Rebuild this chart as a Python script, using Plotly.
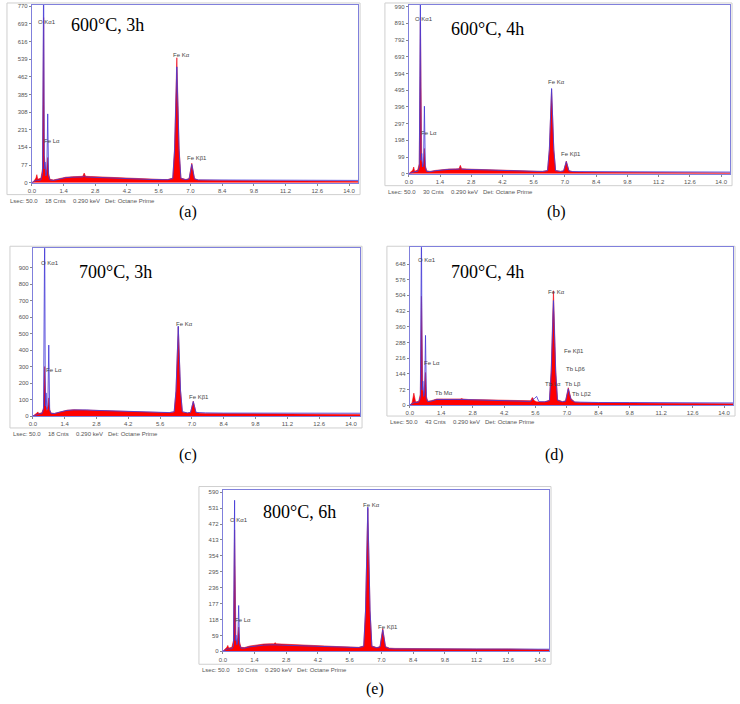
import plotly.graph_objects as go

W, H = 740, 704

# energy grid (keV) shared by all spectra
energy = [0.00, 0.10, 0.18, 0.22, 0.26, 0.40, 0.47, 0.52, 0.55, 0.58,
          0.62, 0.66, 0.70, 0.74, 0.80, 0.95, 1.20, 1.50, 1.80, 2.10,
          2.25, 2.31, 2.37, 2.60, 3.00, 3.50, 4.00, 4.50, 5.00, 5.30,
          5.38, 5.46, 5.55, 5.65, 5.75, 6.00, 6.22, 6.30, 6.40, 6.50,
          6.58, 6.80, 6.94, 7.06, 7.18, 7.35, 7.60, 8.40, 9.80, 11.20,
          12.60, 13.50, 14.00, 14.40]

# (a) 600°C, 3h
red_a = [0, 8, 20, 35, 15, 20, 60, 720, 120, 70,
         40, 60, 110, 40, 15, 12, 18, 24, 26, 27,
         28, 42, 28, 27, 25, 24, 20, 18, 16, 15,
         15, 15, 14, 14, 14, 14, 20, 150, 545, 150,
         20, 14, 18, 85, 18, 12, 11, 10, 9, 9,
         8, 7, 6, 5]
blue_a = [0, 5, 10, 12, 10, 12, 40, 900, 60, 90,
          30, 50, 300, 30, 12, 10, 15, 22, 24, 25,
          25, 30, 25, 24, 22, 21, 18, 16, 15, 14,
          14, 14, 14, 14, 13, 13, 18, 140, 505, 140,
          18, 13, 16, 80, 16, 12, 12, 12, 12, 11,
          11, 11, 10, 10]

# (b) 600°C, 4h
red_b = [0, 10, 22, 40, 15, 22, 60, 900, 150, 80,
         40, 70, 150, 50, 18, 14, 20, 26, 28, 29,
         30, 50, 30, 28, 26, 24, 21, 19, 17, 16,
         16, 15, 15, 15, 14, 14, 20, 140, 500, 140,
         20, 14, 18, 75, 18, 12, 10, 9, 8, 8,
         8, 7, 6, 5]
blue_b = [0, 6, 12, 14, 12, 14, 40, 1100, 80, 120,
          40, 60, 400, 40, 14, 12, 18, 24, 26, 27,
          27, 34, 27, 26, 24, 22, 19, 17, 16, 15,
          15, 15, 15, 15, 14, 14, 18, 145, 505, 145,
          18, 14, 16, 72, 16, 13, 13, 12, 12, 12,
          12, 11, 11, 10]

# (c) 700°C, 3h
red_c = [0, 8, 18, 25, 15, 20, 50, 300, 80, 60,
         30, 50, 110, 40, 18, 16, 25, 35, 38, 38,
         37, 38, 37, 35, 33, 30, 28, 25, 23, 22,
         22, 22, 21, 21, 21, 20, 25, 150, 540, 150,
         25, 18, 22, 90, 22, 17, 16, 15, 15, 15,
         14, 13, 12, 10]
blue_c = [0, 6, 12, 14, 12, 15, 40, 1100, 60, 140,
          40, 60, 430, 35, 16, 15, 24, 34, 37, 38,
          37, 37, 37, 35, 33, 30, 28, 26, 24, 23,
          23, 23, 22, 22, 22, 21, 26, 155, 545, 155,
          26, 19, 22, 88, 22, 19, 19, 18, 18, 18,
          20, 18, 18, 17]

# (d) 700°C, 4h
red_d = [0, 10, 55, 20, 14, 18, 50, 500, 110, 70,
         40, 80, 150, 40, 18, 20, 28, 28, 27, 28,
         28, 30, 28, 26, 25, 23, 21, 20, 18, 17,
         20, 35, 20, 15, 14, 15, 22, 160, 525, 160,
         25, 16, 20, 80, 30, 14, 12, 11, 10, 10,
         9, 8, 7, 6]
blue_d = [0, 6, 14, 14, 12, 14, 35, 800, 70, 110,
          40, 60, 320, 30, 16, 18, 26, 27, 26, 26,
          26, 27, 26, 25, 24, 22, 20, 19, 18, 17,
          17, 25, 30, 40, 16, 15, 20, 150, 480, 150,
          22, 15, 18, 75, 25, 14, 13, 12, 12, 12,
          11, 11, 10, 10]

# (e) 800°C, 6h
red_e = [0, 8, 15, 22, 12, 15, 40, 450, 60, 45,
         30, 50, 90, 35, 15, 14, 20, 24, 27, 28,
         28, 32, 28, 27, 25, 24, 22, 20, 18, 17,
         17, 17, 16, 16, 16, 15, 20, 150, 530, 150,
         20, 14, 18, 85, 18, 12, 11, 10, 10, 9,
         9, 8, 7, 6]
blue_e = [0, 5, 8, 10, 9, 10, 20, 560, 40, 60,
          25, 40, 170, 25, 12, 12, 17, 21, 23, 24,
          24, 26, 24, 23, 22, 21, 19, 17, 16, 15,
          15, 15, 15, 15, 14, 14, 18, 150, 535, 150,
          18, 13, 16, 80, 16, 10, 9, 9, 8, 8,
          8, 8, 8, 8]

x_ticks = [0.0, 1.4, 2.8, 4.2, 5.6, 7.0, 8.4, 9.8, 11.2, 12.6, 14.0]
y_ticks_a = [0, 77, 154, 231, 308, 385, 462, 539, 616, 693, 770]
y_ticks_b = [0, 99, 198, 297, 396, 495, 594, 693, 792, 891, 990]
y_ticks_c = [0, 100, 200, 300, 400, 500, 600, 700, 800, 900]
y_ticks_d = [0, 72, 144, 216, 288, 360, 432, 504, 576, 648]
y_ticks_e = [0, 59, 118, 177, 236, 295, 354, 413, 472, 531, 590]
y_max = [775, 1000, 1017, 725, 600]

titles = ["600°C, 3h", "600°C, 4h", "700°C, 3h", "700°C, 4h", "800°C, 6h"]
tags = ["(a)", "(b)", "(c)", "(d)", "(e)"]
cnts = ["18 Cnts", "30 Cnts", "18 Cnts", "43 Cnts", "10 Cnts"]

labels_a = [("O Kα1", 0.18, 700), ("Fe Lα", 0.44, 180), ("Fe Kα", 6.16, 555), ("Fe Kβ1", 6.78, 107)]
labels_b = [("O Kα1", 0.18, 915), ("Fe Lα", 0.45, 240), ("Fe Kα", 6.15, 543), ("Fe Kβ1", 6.73, 120)]
labels_c = [("O Kα1", 0.26, 925), ("Fe Lα", 0.48, 277), ("Fe Kα", 6.20, 558), ("Fe Kβ1", 6.80, 115)]
labels_d = [("O Kα1", 0.27, 665), ("Fe Lα", 0.53, 192), ("Tb Mα", 1.02, 57), ("Fe Kα", 6.07, 520),
            ("Fe Kβ1", 6.78, 250), ("Tb Lβ6", 6.85, 165), ("Tb Lα", 5.95, 95), ("Tb Lβ", 6.81, 95),
            ("Tb Lβ2", 7.13, 51)]
labels_e = [("O Kα1", 0.22, 488), ("Fe Lα", 0.47, 117), ("Fe Kα", 6.10, 541), ("Fe Kβ1", 6.76, 89)]

spectra = [(red_a, blue_a), (red_b, blue_b), (red_c, blue_c), (red_d, blue_d), (red_e, blue_e)]
yticks = [y_ticks_a, y_ticks_b, y_ticks_c, y_ticks_d, y_ticks_e]
peak_labels = [labels_a, labels_b, labels_c, labels_d, labels_e]

# pixel geometry: plot box (l, r, t, b), outer frame (l, r, t, b), title pos, tag pos
boxes = [(28, 356, 3, 182), (407, 730, 3, 173), (29, 358, 248, 417),
         (408, 733, 247, 406), (220, 548, 491, 654)]
frames = [(3, 358, 1, 194), (383, 732, 1, 185), (6, 360, 246, 429),
          (385, 735, 246, 417), (196, 550, 488, 667)]
title_pos = [(65, 23), (447, 27), (73, 272), (447, 272), (258, 514)]
tag_pos = [(185, 212), (555, 212), (185, 456), (553, 456), (373, 692)]

fig = go.Figure()
shapes, annots = [], []
box_col = "#8080dc"

for i in range(5):
    xa = "x" if i == 0 else f"x{i+1}"
    ya = "y" if i == 0 else f"y{i+1}"
    red, blue = spectra[i]
    fig.add_trace(go.Scatter(x=energy, y=red, mode="lines", fill="tozeroy",
                             fillcolor="rgb(255,0,0)", line=dict(color="rgb(235,0,20)", width=0.6),
                             xaxis=xa, yaxis=ya, showlegend=False, hoverinfo="skip"))
    fig.add_trace(go.Scatter(x=energy, y=blue, mode="lines",
                             line=dict(color="rgba(70,60,215,0.85)", width=1),
                             xaxis=xa, yaxis=ya, showlegend=False, hoverinfo="skip"))

    l, r, t, b = boxes[i]
    axis_common = dict(showline=True, mirror=True, linecolor=box_col, linewidth=1,
                       showgrid=False, zeroline=False, ticks="outside", ticklen=2,
                       tickcolor="#888", tickfont=dict(family="Liberation Sans", size=6, color="#555"))
    fig.layout[("xaxis" if i == 0 else f"xaxis{i+1}")] = dict(
        domain=[l / W, r / W], anchor=ya, range=[0, 14.4],
        tickvals=x_ticks, ticktext=[f"{v:.1f}" for v in x_ticks], **axis_common)
    fig.layout[("yaxis" if i == 0 else f"yaxis{i+1}")] = dict(
        domain=[1 - b / H, 1 - t / H], anchor=xa, range=[0, y_max[i]],
        tickvals=yticks[i], ticktext=[str(v) for v in yticks[i]], **axis_common)

    fl, fr, ft, fb = frames[i]
    shapes.append(dict(type="rect", xref="paper", yref="paper",
                       x0=fl / W, x1=fr / W, y0=1 - fb / H, y1=1 - ft / H,
                       line=dict(color="#cfcfcf", width=1), layer="below"))

    for txt, ex, cy in peak_labels[i]:
        annots.append(dict(text=txt, x=ex, y=cy, xref=xa, yref=ya, showarrow=False,
                           xanchor="left", yanchor="middle",
                           font=dict(family="Liberation Sans", size=6, color="#444")))

    tx, ty = title_pos[i]
    annots.append(dict(text=titles[i], x=tx / W, y=1 - ty / H, xref="paper", yref="paper",
                       showarrow=False, xanchor="left", yanchor="middle",
                       font=dict(family="Liberation Serif", size=18, color="black")))
    gx, gy = tag_pos[i]
    annots.append(dict(text=tags[i], x=gx / W, y=1 - gy / H, xref="paper", yref="paper",
                       showarrow=False, xanchor="center", yanchor="middle",
                       font=dict(family="Liberation Serif", size=16, color="black")))

    # footer line below each spectrum
    foot_y = fb + 6
    for dx, txt in zip([0, 35, 63, 96], ["Lsec: 50.0", cnts[i], "0.290 keV", "Det: Octane Prime"]):
        annots.append(dict(text=txt, x=(fl + 1 + dx) / W, y=1 - foot_y / H, xref="paper", yref="paper",
                           showarrow=False, xanchor="left", yanchor="middle",
                           font=dict(family="Liberation Sans", size=6, color="#555")))

fig.update_layout(width=W, height=H, margin=dict(l=0, r=0, t=0, b=0),
                  paper_bgcolor="white", plot_bgcolor="white",
                  shapes=shapes, annotations=annots)

fig.write_html("out.html", config={"displayModeBar": False},
               post_script="document.body.style.margin='0';")
